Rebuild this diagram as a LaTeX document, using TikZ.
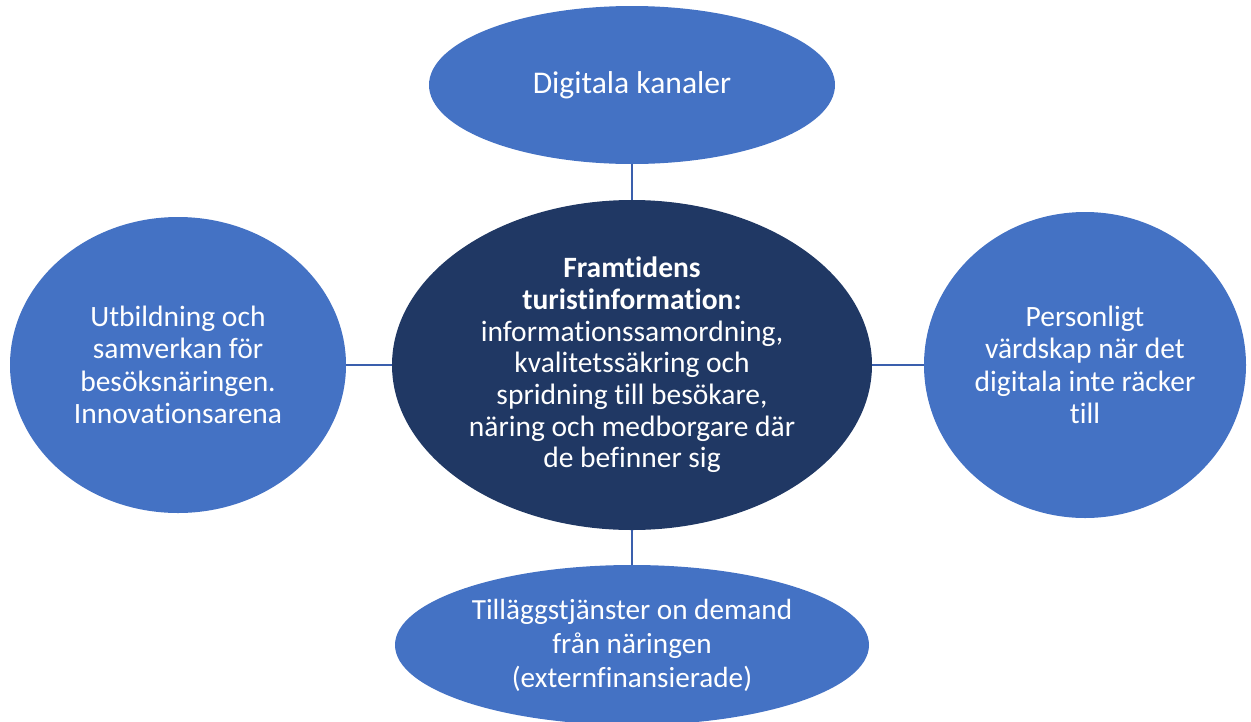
\documentclass[tikz,border=0pt]{standalone}
\usepackage{fontspec}
\setmainfont{Carlito}[Ligatures=NoCommon]
\usepackage{tikz}
\usetikzlibrary{positioning}
\usetikzlibrary{shapes.geometric}
\definecolor{bubbleblue}{HTML}{4472C4}
\definecolor{coreblue}{HTML}{203864}
\definecolor{linkblue}{HTML}{3A5FAD}
\tikzset{
  bubble_node/.style = {ellipse, align=center, inner sep=0pt, outer sep=0pt,
    text=white, fill=bubbleblue, font=\fontsize{29.5}{32.4}\selectfont},
  core_node/.style = {bubble_node, fill=coreblue,
    font=\fontsize{29.5}{31.7}\selectfont},
  link_line/.style = {draw=linkblue, line width=2pt}
}
\begin{document}
\begin{tikzpicture}[x=1pt, y=-1pt]
  \useasboundingbox (0,0) rectangle (1251,721);
  \clip (0,0) rectangle (1251,721);
  % centre
  \node [core_node, minimum width=480pt, minimum height=330pt] (core) at (632,365)
    {\textbf{Framtidens}\\ \textbf{turistinformation:}\\ informationssamordning,\\
     kvalitetssäkring och\\ spridning till besökare,\\ näring och medborgare där\\
     de befinner sig};
  % surrounding bubbles
  \node [bubble_node, minimum width=406pt, minimum height=158pt,
    font=\fontsize{31.6}{36}\selectfont, above=36pt of core] (kanaler)
    {Digitala kanaler};
  \node [bubble_node, minimum width=336pt, minimum height=296pt,
    left=46pt of core] (utbildning)
    {Utbildning och\\ samverkan för\\ besöksnäringen.\\ Innovationsarena};
  \node [bubble_node, minimum width=322pt, minimum height=306pt,
    right=52pt of core] (vardskap)
    {Personligt\\ värdskap när det\\ digitala inte räcker\\ till};
  \node [bubble_node, minimum width=474pt, minimum height=160pt,
    font=\fontsize{29.2}{34}\selectfont, below=35pt of core] (tjanster)
    {Tilläggstjänster on demand\\ från näringen\\ (externfinansierade)};
  % links
  \draw [link_line] (kanaler) -- (core);
  \draw [link_line] (utbildning) -- (core);
  \draw [link_line] (vardskap) -- (core);
  \draw [link_line] (tjanster) -- (core);
\end{tikzpicture}
\end{document}
